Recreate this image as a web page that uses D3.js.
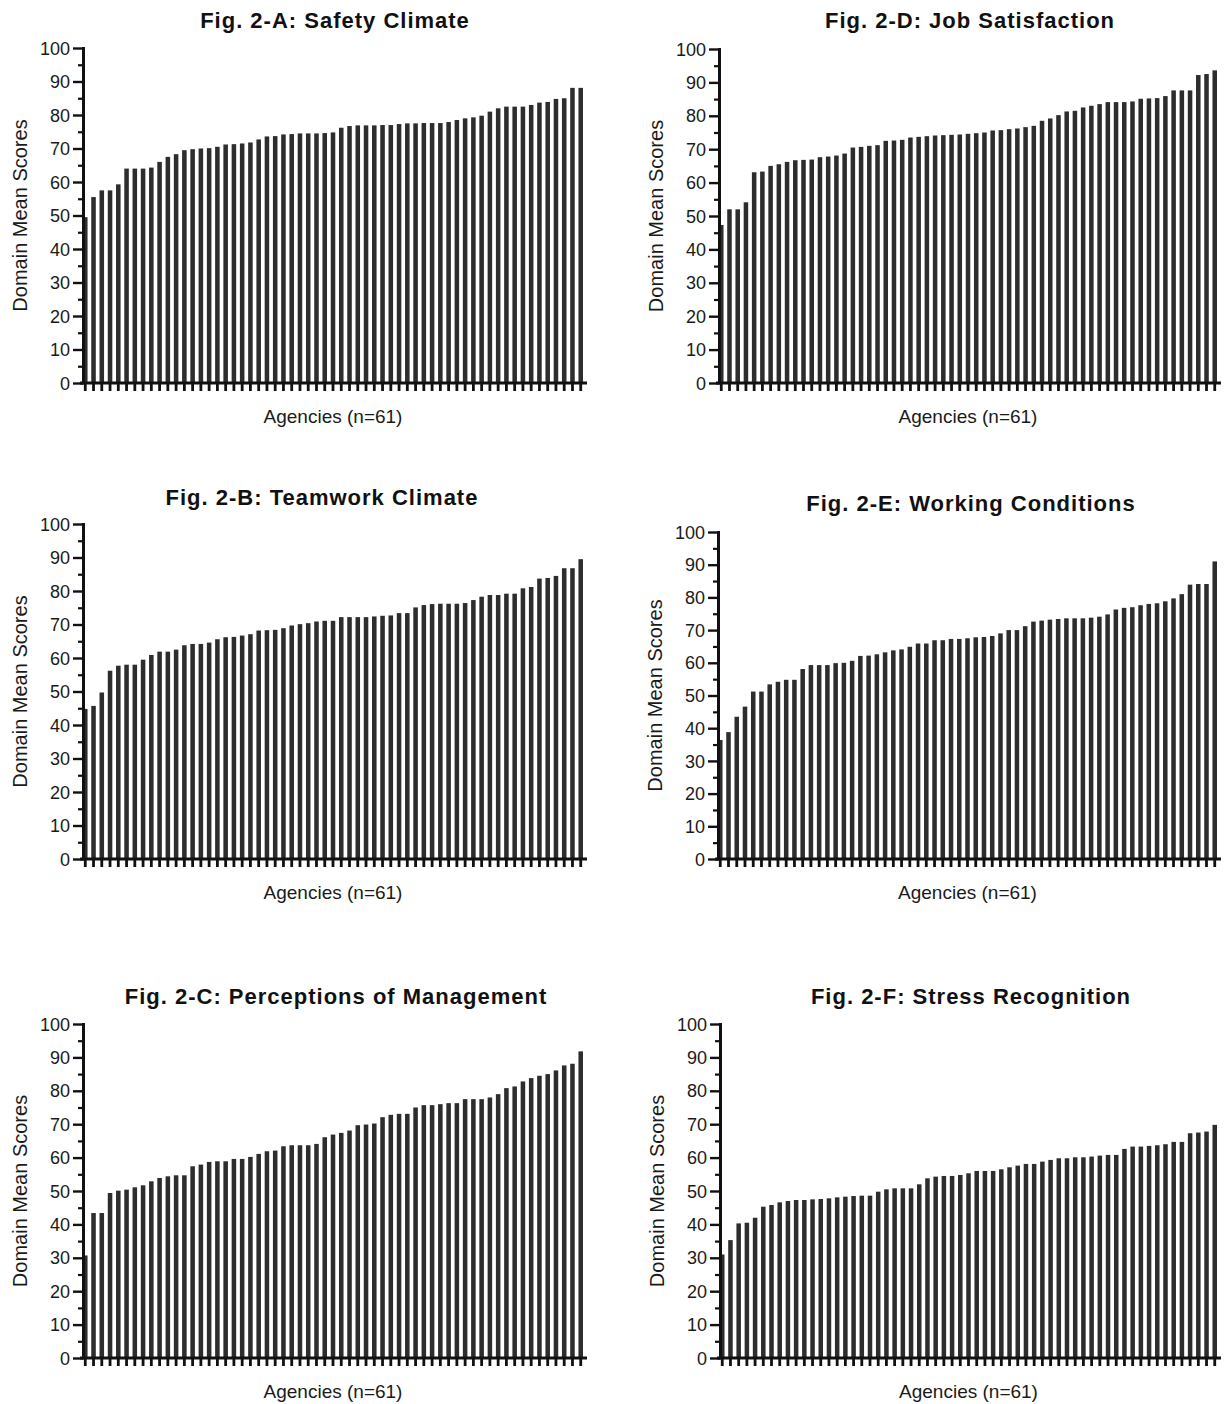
<!DOCTYPE html>
<html>
<head>
<meta charset="utf-8">
<script src="https://cdn.jsdelivr.net/npm/d3@7"></script>
<style>
  body { margin: 0; background: #fff; }
  svg { display: block; }
  .tick text { font-family: "Liberation Sans", Arial, sans-serif; font-size: 18px; fill: #1a1a1a; }
  .title { font-family: "Liberation Sans", Arial, sans-serif; font-size: 22px; font-weight: bold; letter-spacing: 1px; fill: #111; }
  .lbl { font-family: "Liberation Sans", Arial, sans-serif; font-size: 19px; fill: #1a1a1a; }
  .ylbl { font-size: 20px; }
</style>
</head>
<body>
<svg id="chart" width="1225" height="1404"></svg>
<script>
// domain mean scores, 61 agencies each, sorted low -> high
const safetyClimate = [49.5, 55.5, 57.5, 57.5, 59.3, 64, 64, 64, 64.3, 66,
  67.5, 68.3, 69.5, 69.8, 70, 70.1, 70.5, 71.2, 71.3, 71.5,
  71.8, 72.7, 73.6, 73.7, 74.2, 74.3, 74.5, 74.5, 74.5, 74.6,
  74.8, 76.2, 76.7, 76.9, 76.9, 76.9, 77.0, 77.0, 77.3, 77.5,
  77.5, 77.6, 77.6, 77.6, 77.9, 78.5, 79.0, 79.3, 79.8, 81.0,
  82.0, 82.5, 82.5, 82.5, 83.0, 83.7, 83.9, 84.8, 85.0, 88.1, 88.1];

const teamworkClimate = [44.8, 45.7, 49.7, 56.2, 57.7, 58, 58, 59.5, 60.9, 61.9,
  61.9, 62.5, 63.8, 64.2, 64.2, 64.6, 65.6, 66.2, 66.3, 66.7,
  67.1, 68.2, 68.3, 68.4, 68.9, 69.7, 70.1, 70.4, 70.9, 71.1,
  71.1, 72.2, 72.2, 72.2, 72.2, 72.4, 72.6, 72.7, 73.4, 73.4,
  75.1, 75.8, 76.1, 76.2, 76.2, 76.2, 76.4, 77.3, 78.3, 78.8,
  78.8, 79.2, 79.2, 80.8, 81.2, 83.7, 83.9, 84.5, 86.8, 86.8, 89.5];

const perceptionsMgmt = [30.7, 43.4, 43.4, 49.4, 50.1, 50.4, 51.1, 51.7, 52.9, 53.9,
  54.4, 54.7, 54.7, 57.4, 57.9, 58.7, 58.9, 58.9, 59.6, 59.6,
  60.2, 61.1, 61.9, 62.1, 63.4, 63.7, 63.7, 63.7, 64.1, 66.1,
  66.9, 67.4, 68.1, 69.7, 69.9, 70.2, 72.1, 72.8, 73.1, 73.1,
  75.0, 75.7, 75.7, 76.0, 76.3, 76.3, 77.5, 77.5, 77.5, 78.0,
  79.0, 80.8, 81.3, 82.8, 83.8, 84.5, 85.0, 86.1, 87.6, 88.1, 91.8];

const jobSatisfaction = [47.3, 52, 52, 54.1, 63.1, 63.3, 65, 65.5, 66.2, 66.7,
  66.8, 66.9, 67.6, 67.8, 68.1, 68.7, 70.5, 70.7, 71, 71.2,
  72.5, 72.6, 72.8, 73.5, 73.7, 73.9, 74.1, 74.2, 74.3, 74.4,
  74.6, 74.8, 75.0, 75.6, 75.7, 76.0, 76.2, 76.6, 77.0, 78.5,
  79.2, 80.2, 81.3, 81.5, 82.5, 83.0, 83.5, 84.1, 84.1, 84.1,
  84.3, 85.1, 85.2, 85.3, 85.9, 87.6, 87.6, 87.6, 92.2, 92.5, 93.6];

const workingConditions = [36.4, 38.8, 43.5, 46.6, 51.2, 51.2, 53.4, 54.2, 54.8, 54.8,
  58.1, 59.3, 59.3, 59.3, 59.9, 60.0, 60.6, 62.1, 62.2, 62.6,
  63.2, 63.8, 64.1, 64.9, 65.9, 65.9, 66.9, 66.9, 67.3, 67.3,
  67.5, 67.8, 67.9, 68.2, 69.0, 70.0, 70.0, 71.2, 72.6, 72.9,
  73.2, 73.4, 73.6, 73.6, 73.6, 73.8, 74.1, 74.8, 76.3, 76.8,
  77.0, 77.6, 78.0, 78.2, 78.8, 79.7, 81.0, 83.9, 84.1, 84.1, 91.0];

const stressRecognition = [31, 35.3, 40.3, 40.5, 42, 45.3, 45.8, 46.6, 47, 47.3,
  47.3, 47.5, 47.6, 47.8, 48.1, 48.3, 48.5, 48.6, 48.6, 49.8,
  50.5, 50.8, 50.8, 50.8, 52, 53.8, 54.3, 54.5, 54.5, 54.8,
  55.3, 56, 56, 56, 56.5, 57.1, 57.6, 58.1, 58.1, 58.8,
  59.3, 59.8, 59.8, 60.1, 60.1, 60.3, 60.6, 60.8, 60.8, 62.6,
  63.3, 63.3, 63.5, 63.7, 64, 64.7, 64.7, 67.3, 67.5, 67.8, 69.8];

const titles = ["Fig. 2-A: Safety Climate", "Fig. 2-B: Teamwork Climate",
  "Fig. 2-C: Perceptions of Management", "Fig. 2-D: Job Satisfaction",
  "Fig. 2-E: Working Conditions", "Fig. 2-F: Stress Recognition"];
const yTicks = [0, 10, 20, 30, 40, 50, 60, 70, 80, 90, 100];
const yLabel = "Domain Mean Scores";
const xLabel = "Agencies (n=61)";

// panel placement
const panels = [
  { values: safetyClimate,     left: 83,  right: 583,  top: 48,   bottom: 383,  titleX: 335, titleY: 20 },
  { values: teamworkClimate,   left: 83,  right: 583,  top: 524,  bottom: 859,  titleX: 322, titleY: 497 },
  { values: perceptionsMgmt,   left: 83,  right: 583,  top: 1024, bottom: 1358, titleX: 336, titleY: 996 },
  { values: jobSatisfaction,   left: 719, right: 1217, top: 49,   bottom: 383,  titleX: 970, titleY: 20 },
  { values: workingConditions, left: 718, right: 1217, top: 532,  bottom: 859,  titleX: 971, titleY: 503 },
  { values: stressRecognition, left: 720, right: 1217, top: 1024, bottom: 1358, titleX: 971, titleY: 996 }
];

const svg = d3.select("#chart");

panels.forEach((p, k) => {
  const g = svg.append("g");

  const x = d3.scaleBand()
    .domain(d3.range(p.values.length))
    .range([p.left, p.right])
    .paddingInner(0.45)
    .paddingOuter(0);

  const y = d3.scaleLinear().domain([0, 100]).range([p.bottom, p.top]);

  // bars
  g.selectAll(".bar")
    .data(p.values)
    .enter().append("rect")
    .attr("class", "bar")
    .attr("x", (d, i) => x(i))
    .attr("width", x.bandwidth())
    .attr("y", d => y(d))
    .attr("height", d => y(0) - y(d))
    .style("fill", "#2d2d2d");

  // x axis: tick under every bar
  const xg = g.append("g")
    .attr("transform", `translate(0,${y(0)})`)
    .call(d3.axisBottom(x).tickSize(8).tickSizeOuter(0).tickFormat(""));
  xg.select(".domain").remove();
  xg.selectAll(".tick line").attr("stroke", "#111").attr("stroke-width", 2.8);
  g.append("line")
    .attr("x1", p.left - 3).attr("x2", p.right + 4)
    .attr("y1", y(0)).attr("y2", y(0))
    .attr("stroke", "#111").attr("stroke-width", 3);

  // y axis, minor then major ticks
  const ym = g.append("g")
    .attr("transform", `translate(${p.left},0)`)
    .call(d3.axisLeft(y).tickValues(d3.range(5, 100, 10)).tickSize(5).tickFormat(""));
  ym.select(".domain").remove();
  ym.selectAll(".tick line").attr("stroke", "#111").attr("stroke-width", 2.2);

  const yg = g.append("g")
    .attr("transform", `translate(${p.left},0)`)
    .call(d3.axisLeft(y).tickValues(yTicks).tickSize(10).tickSizeOuter(0).tickPadding(3));
  yg.select(".domain").attr("stroke", "#111").attr("stroke-width", 3)
    .attr("d", `M0.5,${y(100) - 1}V${y(0) + 1.5}`);
  yg.selectAll(".tick line").attr("stroke", "#111").attr("stroke-width", 2.4);
  yg.selectAll(".tick text").attr("dy", "0.34em");

  // labels
  g.append("text")
    .attr("class", "title")
    .attr("x", p.titleX).attr("y", p.titleY)
    .attr("dy", "0.35em")
    .attr("text-anchor", "middle")
    .text(titles[k]);

  const midY = (p.top + p.bottom) / 2;
  g.append("text")
    .attr("class", "lbl ylbl")
    .attr("transform", `translate(${p.left - 63},${midY}) rotate(-90)`)
    .attr("dy", "0.35em")
    .attr("text-anchor", "middle")
    .text(yLabel);

  g.append("text")
    .attr("class", "lbl")
    .attr("x", (p.left + p.right) / 2)
    .attr("y", p.bottom + 33)
    .attr("dy", "0.35em")
    .attr("text-anchor", "middle")
    .text(xLabel);
});
</script>
</body>
</html>
